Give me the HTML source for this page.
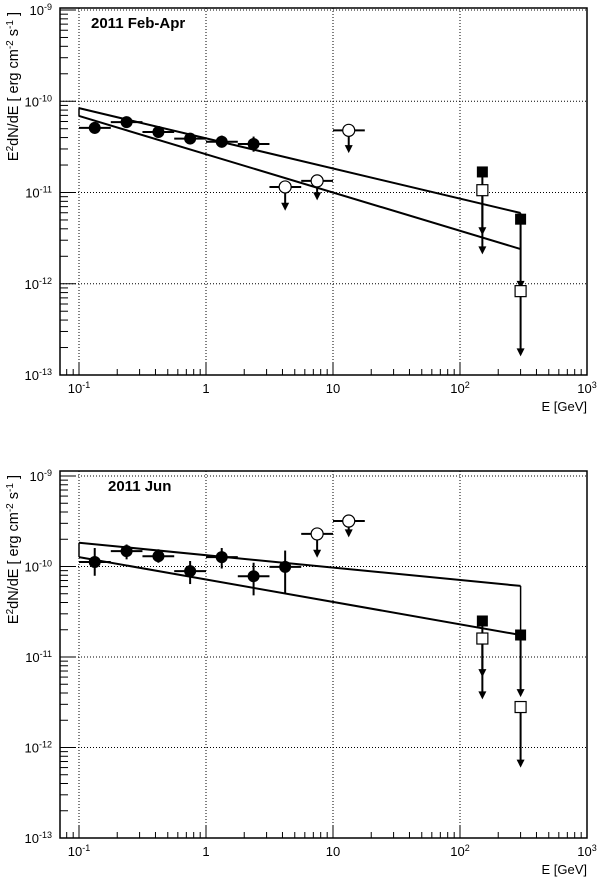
<!DOCTYPE html>
<html><head><meta charset="utf-8"><style>
body{margin:0;background:#fff;}
svg{display:block;font-family:"Liberation Sans",Arial,sans-serif;}
</style></head><body>
<svg id="c" width="600" height="881" xmlns="http://www.w3.org/2000/svg"></svg>
<script>
// Panel 1 data (2011 Feb-Apr)
const p1PtE = [0.133, 0.237, 0.422, 0.75, 1.33, 2.37];
const p1PtF = [5.1e-11, 5.9e-11, 4.6e-11, 3.9e-11, 3.6e-11, 3.4e-11];
const p1PtLo = [4.4e-11, 5.4e-11, 4.2e-11, 3.5e-11, 3.1e-11, 2.8e-11];
const p1PtHi = [5.8e-11, 6.4e-11, 5.0e-11, 4.3e-11, 4.2e-11, 4.1e-11];
const p1PtElo = [0.1, 0.178, 0.316, 0.562, 1.0, 1.78];
const p1PtEhi = [0.178, 0.316, 0.562, 1.0, 1.78, 3.16];
const p1UlE = [4.2, 7.5, 13.3];
const p1UlF = [1.15e-11, 1.34e-11, 4.8e-11];
const p1UlTo = [6.3e-12, 8.2e-12, 2.7e-11];
const p1UlElo = [3.16, 5.62, 10];
const p1UlEhi = [5.62, 10, 17.8];
const p1SqE = [150, 300];
const p1SqFill = [1.68e-11, 5.1e-12];
const p1SqFillTo = [3.4e-12, 8.8e-13];
const p1SqOpen = [1.06e-11, 8.3e-13];
const p1SqOpenTo = [2.1e-12, 1.6e-13];
const p1LineE = [0.1, 300];
const p1LineUp = [8.4e-11, 5.96e-12];
const p1LineLo = [6.9e-11, 2.4e-12];
// Panel 2 data (2011 Jun)
const p2PtE = [0.133, 0.237, 0.422, 0.75, 1.33, 2.37, 4.2];
const p2PtF = [1.12e-10, 1.48e-10, 1.3e-10, 8.9e-11, 1.27e-10, 7.8e-11, 9.9e-11];
const p2PtLo = [7.9e-11, 1.2e-10, 1.1e-10, 6.4e-11, 9.5e-11, 4.8e-11, 5.1e-11];
const p2PtHi = [1.6e-10, 1.75e-10, 1.55e-10, 1.15e-10, 1.6e-10, 1.1e-10, 1.5e-10];
const p2PtElo = [0.1, 0.178, 0.316, 0.562, 1.0, 1.78, 3.16];
const p2PtEhi = [0.178, 0.316, 0.562, 1.0, 1.78, 3.16, 5.62];
const p2UlE = [7.5, 13.3];
const p2UlF = [2.29e-10, 3.18e-10];
const p2UlTo = [1.25e-10, 2.1e-10];
const p2UlElo = [5.62, 10];
const p2UlEhi = [10, 17.8];
const p2SqE = [150, 300];
const p2SqFill = [2.5e-11, 1.75e-11];
const p2SqFillTo = [6.0e-12, 3.6e-12];
const p2SqOpen = [1.6e-11, 2.8e-12];
const p2SqOpenTo = [3.4e-12, 6.0e-13];
const p2LineE = [0.1, 300];
const p2LineUp = [1.83e-10, 6.1e-11];
const p2LineLo = [1.27e-10, 1.75e-11];

const xTickLabels = ["10<tspan dy='-5' font-size='9'>-1</tspan>", "1", "10", "10<tspan dy='-5' font-size='9'>2</tspan>", "10<tspan dy='-5' font-size='9'>3</tspan>"];
const yTickExp = [-9, -10, -11, -12, -13];

const NS = "http://www.w3.org/2000/svg";
const svg = document.getElementById('c');
function mk(tag, attrs, parent) {
  const e = document.createElementNS(NS, tag);
  for (const k in attrs) e.setAttribute(k, attrs[k]);
  (parent || svg).appendChild(e);
  return e;
}

function panel(o) {
  const L = 60, R = 587, top = o.top, bot = o.bot, yTop = o.y9, yBot = o.bot;
  const X = e => 79 + 127 * Math.log10(e / 0.1);
  const Y = f => yTop + (yBot - yTop) * (-9 - Math.log10(f)) / 4;
  const g = mk('g', {});
  
  
  for (let d = -1; d <= 2; d++) {
    const x = X(Math.pow(10, d));
    const gl = mk('line', {x1: x, x2: x, y1: top, y2: bot, stroke: '#000', 'stroke-width': 1, 'stroke-dasharray': '1,2'}, g);
    
    
  }
  for (const ex of yTickExp) {
    const y = Y(Math.pow(10, ex));
    const gl = mk('line', {x1: L, x2: R, y1: y, y2: y, stroke: '#000', 'stroke-width': 1, 'stroke-dasharray': '1,2'}, g);
    
    
  }
  const fr = mk('rect', {x: L, y: top, width: R - L, height: bot - top, fill: 'none', stroke: '#000', 'stroke-width': 1.5}, g);
  
  
  for (let ex = -13; ex < -9; ex++) {
    for (let m = 1; m <= 9; m++) {
      const y = Y(m * Math.pow(10, ex));
      mk('line', {x1: L, x2: L + (m === 1 ? 16 : 8), y1: y, y2: y, stroke: '#000', 'stroke-width': 1}, g);
    }
  }
  mk('line', {x1: L, x2: L + 16, y1: Y(1e-9), y2: Y(1e-9), stroke: '#000'}, g);
  for (let ex = -2; ex < 3; ex++) {
    for (let m = 1; m <= 9; m++) {
      const v = m * Math.pow(10, ex);
      const x = X(v);
      if (x < L || x > R) continue;
      mk('line', {x1: x, x2: x, y1: bot, y2: bot - (m === 1 ? 12 : 6), stroke: '#000', 'stroke-width': 1}, g);
    }
  }
  yTickExp.forEach(ex => {
    const t = mk('text', {x: 52, y: Y(Math.pow(10, ex)) + 5, 'text-anchor': 'end', 'font-size': 13}, g);
    t.innerHTML = "10<tspan dy='-5' font-size='9'>" + ex + "</tspan>";
    
    
  });
  xTickLabels.forEach((lab, i) => {
    const t = mk('text', {x: X(Math.pow(10, i - 1)), y: bot + 18, 'text-anchor': 'middle', 'font-size': 13}, g);
    t.innerHTML = lab;
    
    
  });
  const xt = mk('text', {x: R, y: bot + 36, 'text-anchor': 'end', 'font-size': 13}, g);
  xt.textContent = 'E [GeV]';
  
  
  const yt = mk('text', {x: 0, y: 0, 'text-anchor': 'end', 'font-size': 14.5, transform: 'translate(18,' + (top + 4) + ') rotate(-90)'}, g);
  yt.innerHTML = "E<tspan dy='-5' font-size='10'>2</tspan><tspan dy='5'>dN/dE [ erg cm</tspan><tspan dy='-5' font-size='10'>-2</tspan><tspan dy='5'> s</tspan><tspan dy='-5' font-size='10'>-1</tspan><tspan dy='5'> ]</tspan>";
  
  
  const tt = mk('text', {x: o.titleX, y: top + 20, 'font-size': 15, 'font-weight': 'bold'}, g);
  tt.textContent = o.title;
  
  
  const ul = mk('line', {x1: X(o.lineE[0]), y1: Y(o.lineUp[0]), x2: X(o.lineE[1]), y2: Y(o.lineUp[1]), stroke: '#000', 'stroke-width': 2}, g);
  
  
  const ll = mk('line', {x1: X(o.lineE[0]), y1: Y(o.lineLo[0]), x2: X(o.lineE[1]), y2: Y(o.lineLo[1]), stroke: '#000', 'stroke-width': 2}, g);
  
  
  for (let i = 0; i < 2; i++) {
    mk('line', {x1: X(o.lineE[i]), x2: X(o.lineE[i]), y1: Y(o.lineUp[i]), y2: Y(o.lineLo[i]), stroke: '#000', 'stroke-width': 1.5}, g);
  }
  function arrow(x, y1, y2, nm) {
    const a = mk('line', {x1: x, x2: x, y1: y1, y2: y2 - 6, stroke: '#000', 'stroke-width': 2}, g);
    
    
    mk('polygon', {points: (x - 4) + ',' + (y2 - 8) + ' ' + (x + 4) + ',' + (y2 - 8) + ' ' + x + ',' + y2, fill: '#000'}, g);
  }
  o.ptE.forEach((e, i) => {
    const x = X(e), y = Y(o.ptF[i]);
    mk('line', {x1: X(o.ptElo[i]), x2: X(o.ptEhi[i]), y1: y, y2: y, stroke: '#000', 'stroke-width': 2}, g);
    mk('line', {x1: x, x2: x, y1: Y(o.ptLo[i]), y2: Y(o.ptHi[i]), stroke: '#000', 'stroke-width': 2}, g);
    const c = mk('circle', {cx: x, cy: y, r: 6, fill: '#000'}, g);
    
    
  });
  o.ulE.forEach((e, i) => {
    const x = X(e), y = Y(o.ulF[i]);
    mk('line', {x1: X(o.ulElo[i]), x2: X(o.ulEhi[i]), y1: y, y2: y, stroke: '#000', 'stroke-width': 2}, g);
    arrow(x, y, Y(o.ulTo[i]), 'upper-limit-arrow');
    const c = mk('circle', {cx: x, cy: y, r: 6, fill: '#fff', stroke: '#000', 'stroke-width': 1.2}, g);
    
    
  });
  o.sqE.forEach((e, i) => {
    const x = X(e);
    arrow(x, Y(o.sqOpen[i]), Y(o.sqOpenTo[i]), 'open-square-arrow');
    arrow(x, Y(o.sqFill[i]), Y(o.sqFillTo[i]), 'filled-square-arrow');
    const so = mk('rect', {x: x - 5.5, y: Y(o.sqOpen[i]) - 5.5, width: 11, height: 11, fill: '#fff', stroke: '#000', 'stroke-width': 1.2}, g);
    
    
    const sf = mk('rect', {x: x - 5.5, y: Y(o.sqFill[i]) - 5.5, width: 11, height: 11, fill: '#000'}, g);
    
    
  });
}

panel({name: 'panel-feb-apr', title: '2011 Feb-Apr', titleX: 91, top: 8, bot: 375, y9: 10,
  ptE: p1PtE, ptF: p1PtF, ptLo: p1PtLo, ptHi: p1PtHi, ptElo: p1PtElo, ptEhi: p1PtEhi,
  ulE: p1UlE, ulF: p1UlF, ulTo: p1UlTo, ulElo: p1UlElo, ulEhi: p1UlEhi,
  sqE: p1SqE, sqFill: p1SqFill, sqFillTo: p1SqFillTo, sqOpen: p1SqOpen, sqOpenTo: p1SqOpenTo,
  lineE: p1LineE, lineUp: p1LineUp, lineLo: p1LineLo});
panel({name: 'panel-jun', title: '2011 Jun', titleX: 108, top: 471, bot: 838, y9: 476,
  ptE: p2PtE, ptF: p2PtF, ptLo: p2PtLo, ptHi: p2PtHi, ptElo: p2PtElo, ptEhi: p2PtEhi,
  ulE: p2UlE, ulF: p2UlF, ulTo: p2UlTo, ulElo: p2UlElo, ulEhi: p2UlEhi,
  sqE: p2SqE, sqFill: p2SqFill, sqFillTo: p2SqFillTo, sqOpen: p2SqOpen, sqOpenTo: p2SqOpenTo,
  lineE: p2LineE, lineUp: p2LineUp, lineLo: p2LineLo});
</script>
</body></html>
